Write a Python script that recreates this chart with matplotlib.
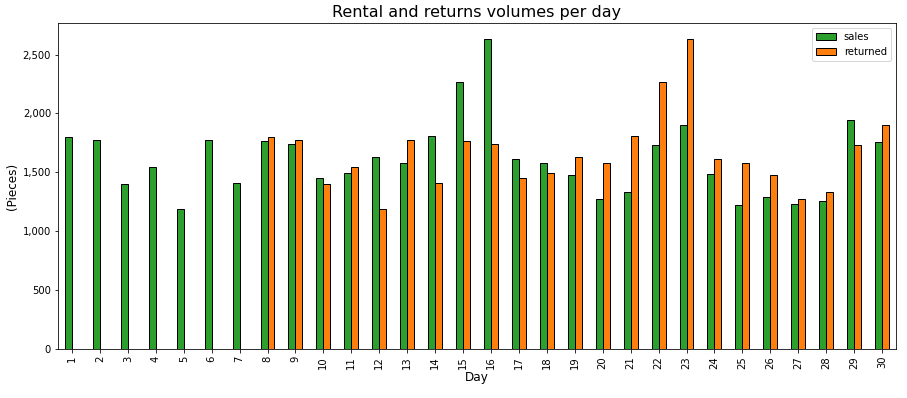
import numpy as np
import matplotlib
matplotlib.use("Agg")
import matplotlib.pyplot as plt
from matplotlib.ticker import FuncFormatter

days = list(range(1, 31))
sales = [1797, 1771, 1398, 1542, 1186, 1771, 1407, 1763, 1737, 1449,
         1492, 1627, 1576, 1805, 2263, 2636, 1610, 1576, 1475, 1271,
         1331, 1729, 1898, 1483, 1220, 1288, 1229, 1254, 1941, 1754]
returned = [np.nan, np.nan, np.nan, np.nan, np.nan, np.nan, np.nan,
            1797, 1771, 1398, 1542, 1186, 1771, 1407, 1763, 1737,
            1449, 1492, 1627, 1576, 1805, 2263, 2636, 1610, 1576,
            1475, 1271, 1331, 1729, 1898]

fig = plt.figure(figsize=(907/72, 398/72), dpi=72)
ax = fig.add_axes([58/907, 1-349/398, (896-58)/907, (349-23)/398])

x = np.arange(len(days))
w = 0.25
ax.bar(x - w/2, sales, width=w, color='#2ca02c', edgecolor='black', label='sales')
ax.bar(x + w/2, returned, width=w, color='#ff7f0e', edgecolor='black', label='returned')

ax.set_xlim(-0.5, len(days) - 0.5)
ax.set_ylim(0, 2768)
ax.set_xticks(x)
ax.set_xticklabels([str(d) for d in days], rotation=90)
ax.yaxis.set_major_formatter(FuncFormatter(lambda v, p: f"{int(v):,}"))
ax.set_title("Rental and returns volumes per day", fontsize=16)
ax.set_xlabel("Day", fontsize=12, labelpad=2)
ax.set_ylabel("(Pieces)", fontsize=12)
ax.legend(loc='upper right')

fig.savefig("out.png", dpi=72)
